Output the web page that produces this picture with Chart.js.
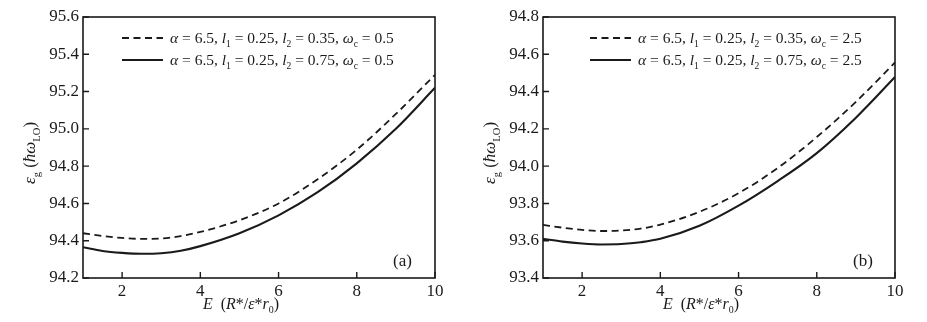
<!DOCTYPE html>
<html>
<head>
<meta charset="utf-8">
<script src="https://cdn.jsdelivr.net/npm/chart.js@4.4.1/dist/chart.umd.min.js"></script>
<style>
  html, body { margin: 0; padding: 0; background: #fff; }
  #wrap { position: relative; width: 927px; height: 322px; }
  #ca { position: absolute; left: 0; top: 0; }
  #cb { position: absolute; left: 460px; top: 0; }
</style>
</head>
<body>
<div id="wrap">
  <canvas id="ca" width="460" height="322"></canvas>
  <canvas id="cb" width="467" height="322"></canvas>
</div>
<script>
// Electric field strength E (in units of R*/e*r0)
const eVals = [1, 1.5, 2, 2.5, 3, 3.5, 4, 5, 6, 7, 8, 9, 10];

// Panel (a): omega_c = 0.5
const aDashed = [94.44, 94.425, 94.415, 94.41, 94.412, 94.425, 94.447, 94.51, 94.60, 94.73, 94.888, 95.08, 95.29];
const aSolid  = [94.365, 94.345, 94.335, 94.33, 94.333, 94.346, 94.371, 94.44, 94.536, 94.66, 94.815, 95.0, 95.22];

// Panel (b): omega_c = 2.5
const bDashed = [93.685, 93.67, 93.658, 93.652, 93.655, 93.665, 93.686, 93.755, 93.855, 93.99, 94.156, 94.345, 94.556];
const bSolid  = [93.61, 93.595, 93.585, 93.58, 93.582, 93.592, 93.61, 93.68, 93.788, 93.92, 94.07, 94.26, 94.478];

const xTicks = [2, 4, 6, 8, 10];
const aYTicks = [94.2, 94.4, 94.6, 94.8, 95.0, 95.2, 95.4, 95.6];
const bYTicks = [93.4, 93.6, 93.8, 94.0, 94.2, 94.4, 94.6, 94.8];

const legendA = [
  [['α', 'i'], [' = 6.5, '], ['l', 'i'], ['1', 's'], [' = 0.25, '], ['l', 'i'], ['2', 's'], [' = 0.35, '], ['ω', 'i'], ['c', 's'], [' = 0.5']],
  [['α', 'i'], [' = 6.5, '], ['l', 'i'], ['1', 's'], [' = 0.25, '], ['l', 'i'], ['2', 's'], [' = 0.75, '], ['ω', 'i'], ['c', 's'], [' = 0.5']]
];
const legendB = [
  [['α', 'i'], [' = 6.5, '], ['l', 'i'], ['1', 's'], [' = 0.25, '], ['l', 'i'], ['2', 's'], [' = 0.35, '], ['ω', 'i'], ['c', 's'], [' = 2.5']],
  [['α', 'i'], [' = 6.5, '], ['l', 'i'], ['1', 's'], [' = 0.25, '], ['l', 'i'], ['2', 's'], [' = 0.75, '], ['ω', 'i'], ['c', 's'], [' = 2.5']]
];
const yTitle = [['ε', 'i'], ['g', 's'], [' ('], ['ħω', 'i'], ['LO', 's'], [')']];
const xTitle = [['E', 'i'], ['  ('], ['R', 'i'], ['*/'], ['ε', 'i'], ['*'], ['r', 'i'], ['0', 's'], [')']];

const FONT = '"Liberation Serif", "Times New Roman", serif';
const INK = '#1a1a1a';

// Draws a run of text segments; 'i' = italic, 's' = subscript
function richWidth(ctx, segs, size) {
  let w = 0;
  for (const [t, f] of segs) {
    const sz = f === 's' ? size * 0.62 : size;
    ctx.font = (f === 'i' ? 'italic ' : '') + sz + 'px ' + FONT;
    w += ctx.measureText(t).width;
  }
  return w;
}
function drawRich(ctx, segs, x, y, size) {
  ctx.textBaseline = 'alphabetic';
  ctx.textAlign = 'left';
  for (const [t, f] of segs) {
    const sub = f === 's';
    const sz = sub ? size * 0.62 : size;
    ctx.font = (f === 'i' ? 'italic ' : '') + sz + 'px ' + FONT;
    ctx.fillText(t, x, sub ? y + size * 0.28 : y);
    x += ctx.measureText(t).width;
  }
}

const framePlugin = {
  id: 'frame',
  afterDraw(chart, args, opts) {
    const ctx = chart.ctx;
    const a = chart.chartArea;
    const xs = chart.scales.x, ys = chart.scales.y;
    ctx.save();
    ctx.strokeStyle = INK;
    ctx.fillStyle = INK;
    ctx.lineWidth = 1.6;
    ctx.strokeRect(a.left, a.top, a.right - a.left, a.bottom - a.top);
    // inward tick marks
    ctx.lineWidth = 1.4;
    ctx.beginPath();
    for (const t of ys.ticks) {
      const py = ys.getPixelForValue(t.value);
      ctx.moveTo(a.left, py); ctx.lineTo(a.left + 6, py);
    }
    for (const t of xs.ticks) {
      const px = xs.getPixelForValue(t.value);
      ctx.moveTo(px, a.bottom); ctx.lineTo(px, a.bottom - 6);
    }
    ctx.stroke();

    // legend
    const rows = opts.legend;
    const styles = [[7, 4.5], []];
    rows.forEach((segs, i) => {
      const y = opts.legY + i * 22;
      ctx.setLineDash(styles[i]);
      ctx.lineWidth = i === 0 ? 1.8 : 2.1;
      ctx.beginPath();
      ctx.moveTo(opts.legX, y - 5);
      ctx.lineTo(opts.legX + 41, y - 5);
      ctx.stroke();
      ctx.setLineDash([]);
      drawRich(ctx, segs, opts.legX + 48, y, 15.5);
    });

    // panel tag
    ctx.font = '17px ' + FONT;
    ctx.textAlign = 'left';
    ctx.textBaseline = 'middle';
    ctx.fillText(opts.tag, a.right - 42, a.bottom - 16);

    // axis titles
    const xw = richWidth(ctx, xTitle, 16);
    drawRich(ctx, xTitle, 241 - xw / 2, 309, 16);
    ctx.translate(35, 153);
    ctx.rotate(-Math.PI / 2);
    const yw = richWidth(ctx, yTitle, 17);
    drawRich(ctx, yTitle, -yw / 2, 0, 17);
    ctx.restore();
  }
};

function makeChart(id, dashed, solid, yTicks, legend, legX, tag) {
  const ds = (vals, dash, w) => ({
    data: eVals.map((e, i) => ({ x: e, y: vals[i] })),
    borderColor: INK,
    borderWidth: w,
    borderDash: dash,
    pointRadius: 0,
    showLine: true,
    fill: false,
    cubicInterpolationMode: 'monotone'
  });
  return new Chart(document.getElementById(id), {
    type: 'scatter',
    data: { datasets: [ds(dashed, [7, 4.5], 1.8), ds(solid, [], 2.1)] },
    options: {
      responsive: false,
      animation: false,
      layout: { padding: { left: 0, top: 17, right: id === 'ca' ? 25 : 32, bottom: 0 } },
      plugins: {
        legend: { display: false },
        tooltip: { enabled: false },
        frame: { legend, legX, legY: 43, tag }
      },
      scales: {
        x: {
          type: 'linear', min: 1, max: 10,
          afterBuildTicks: s => { s.ticks = xTicks.map(v => ({ value: v })); },
          afterFit: s => { s.height = 44; },
          grid: { display: false, drawTicks: false },
          border: { display: false },
          ticks: { padding: 3, color: INK, font: { family: FONT, size: 17 } }
        },
        y: {
          type: 'linear', min: yTicks[0], max: yTicks[yTicks.length - 1],
          afterBuildTicks: s => { s.ticks = yTicks.map(v => ({ value: v })); },
          afterFit: s => { s.width = 83; },
          grid: { display: false, drawTicks: false },
          border: { display: false },
          ticks: { padding: 4, color: INK, font: { family: FONT, size: 17 },
                   callback: v => v.toFixed(1) }
        }
      }
    },
    plugins: [framePlugin]
  });
}

makeChart('ca', aDashed, aSolid, aYTicks, legendA, 122, '(a)');
makeChart('cb', bDashed, bSolid, bYTicks, legendB, 130, '(b)');
</script>
</body>
</html>
